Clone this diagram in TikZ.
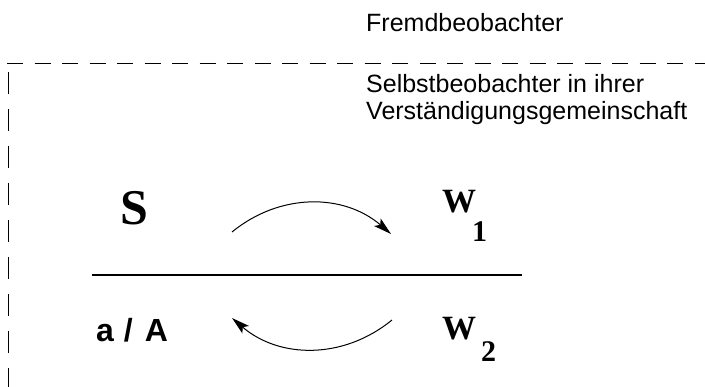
\documentclass[tikz,border=0pt]{standalone}
\usepackage{fontspec}
\setmainfont{Liberation Serif}
\setsansfont{Liberation Sans}
\usetikzlibrary{arrows.meta}

\begin{document}
\begin{tikzpicture}
  [x=1pt,y=1pt,inner sep=0pt,
   label/.style={anchor=base west,font=\sffamily\fontsize{25}{27}\selectfont},
   sym/.style={anchor=base west,font=\rmfamily\bfseries\fontsize{34}{34}\selectfont},
   idx/.style={anchor=base west,font=\rmfamily\bfseries\fontsize{30}{30}\selectfont},
   flow/.style={line width=1pt,-{Stealth[length=18pt,width=10pt,inset=4pt]}},
   border/.style={line width=1pt}]
  \useasboundingbox (0,0) rectangle (705,387);

  % observer frame
  \draw[border,dash pattern=on 16pt off 11.5pt] (7,323) -- (705,323);
  \draw[border,dash pattern=on 22pt off 15pt] (8,315) -- (8,0);

  \node[label] (fremd) at (366,355) {Fremdbeobachter};
  \node[label] (selbst) at (366,294) {Selbstbeobachter in ihrer};
  \node[label] (verst) at (366,267) {Verständigungsgemeinschaft};

  \node[anchor=base west,font=\rmfamily\bfseries\fontsize{50}{50}\selectfont] (s) at (120,162) {S};
  \node[sym] (w1) at (442,174) {W};
  \node[idx] (w1i) at (472,145) {1};
  \node[anchor=base west,font=\sffamily\bfseries\fontsize{32}{32}\selectfont] (aA) at (96,45) {a\hspace{10pt}/\hspace{12pt}A};
  \node[sym] (w2) at (442,47) {W};
  \node[idx] (w2i) at (481,25) {2};

  \draw[line width=1.2pt] (92,112) -- (522,112);

  \coordinate (t1) at (232,155);
  \coordinate (t2) at (391,153);
  \coordinate (b1) at (392,67);
  \coordinate (b2) at (232,69);
  \foreach \from/\to in {t1/t2,b1/b2}
    \draw[flow] (\from) to[bend left=40] (\to);
\end{tikzpicture}
\end{document}
